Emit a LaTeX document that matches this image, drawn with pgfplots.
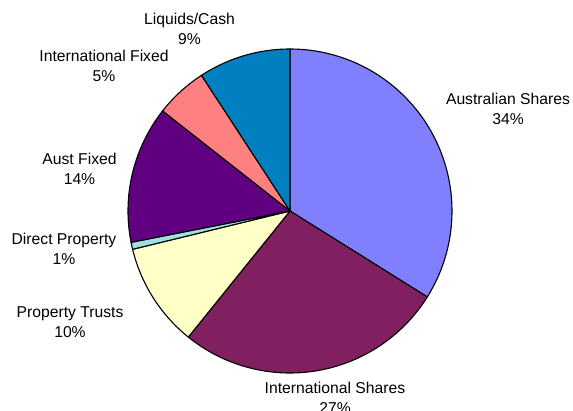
\documentclass[border=0pt]{standalone}
\usepackage{fontspec}
\setmainfont{Liberation Sans}
\usepackage{pgfplots}
\usepackage{pgfplotstable}
\pgfplotsset{compat=1.18}

\definecolor{cAusSh}{RGB}{128,128,255}
\definecolor{cIntSh}{RGB}{128,32,96}
\definecolor{cPropTr}{RGB}{255,255,200}
\definecolor{cDirProp}{RGB}{160,224,224}
\definecolor{cAusFix}{RGB}{96,0,128}
\definecolor{cIntFix}{RGB}{255,128,128}
\definecolor{cCash}{RGB}{0,128,192}

% share of each slice (percent), clockwise from 12 o'clock
\pgfplotstableread{
name        value  colour
AusShares   33.9   cAusSh
IntShares   26.9   cIntSh
PropTrusts  10.4   cPropTr
DirectProp  0.7    cDirProp
AusFixed    13.7   cAusFix
IntFixed    5.2    cIntFix
Cash        9.2    cCash
}\piedata

% label: x, baseline y of first line, text, percentage
\newcommand\lab[4]{%
  \node[anchor=base,inner sep=0pt] at (axis cs:#1,#2) {#3};
  \node[anchor=base,inner sep=0pt] at (axis cs:#1,#2+19.5) {#4};
}

\begin{document}
\begin{tikzpicture}
\begin{axis}[
    width=573pt, height=411pt,
    scale only axis,
    xmin=0, xmax=573, ymin=0, ymax=411,
    y dir=reverse,
    hide axis,
    clip=false,
]
\coordinate (bl) at (axis cs:0,411);
\coordinate (tr) at (axis cs:573,0);

\def\cx{290}
\def\cy{211}
\def\r{162}
\def\start{90}
\pgfplotsforeachungrouped \i in {0,...,6}{%
  \pgfplotstablegetelem{\i}{value}\of\piedata \let\v\pgfplotsretval
  \pgfplotstablegetelem{\i}{colour}\of\piedata \let\c\pgfplotsretval
  \pgfmathsetmacro\stop{\start-3.6*\v}%
  \edef\cmd{\noexpand\addplot[fill=\c, draw=black, line width=1.1pt,
      line join=round, domain=\stop:\start, samples=80]
      ({\cx+\r*cos(x)},{\cy-\r*sin(x)}) -- (axis cs:\cx,\cy) -- cycle;}%
  \cmd
  \global\let\start\stop
}

\fontsize{15.7}{19}\selectfont
\lab{508}{105}{Australian Shares}{34\%}
\lab{335}{394}{International Shares}{27\%}
\lab{70}{318}{Property Trusts}{10\%}
\lab{64}{245}{Direct Property}{1\%}
\lab{79.5}{165}{Aust Fixed}{14\%}
\lab{104}{62}{International Fixed}{5\%}
\lab{189.5}{25}{Liquids/Cash}{9\%}
\end{axis}
\pgfresetboundingbox
\useasboundingbox (bl) rectangle (tr);
\end{tikzpicture}
\end{document}
